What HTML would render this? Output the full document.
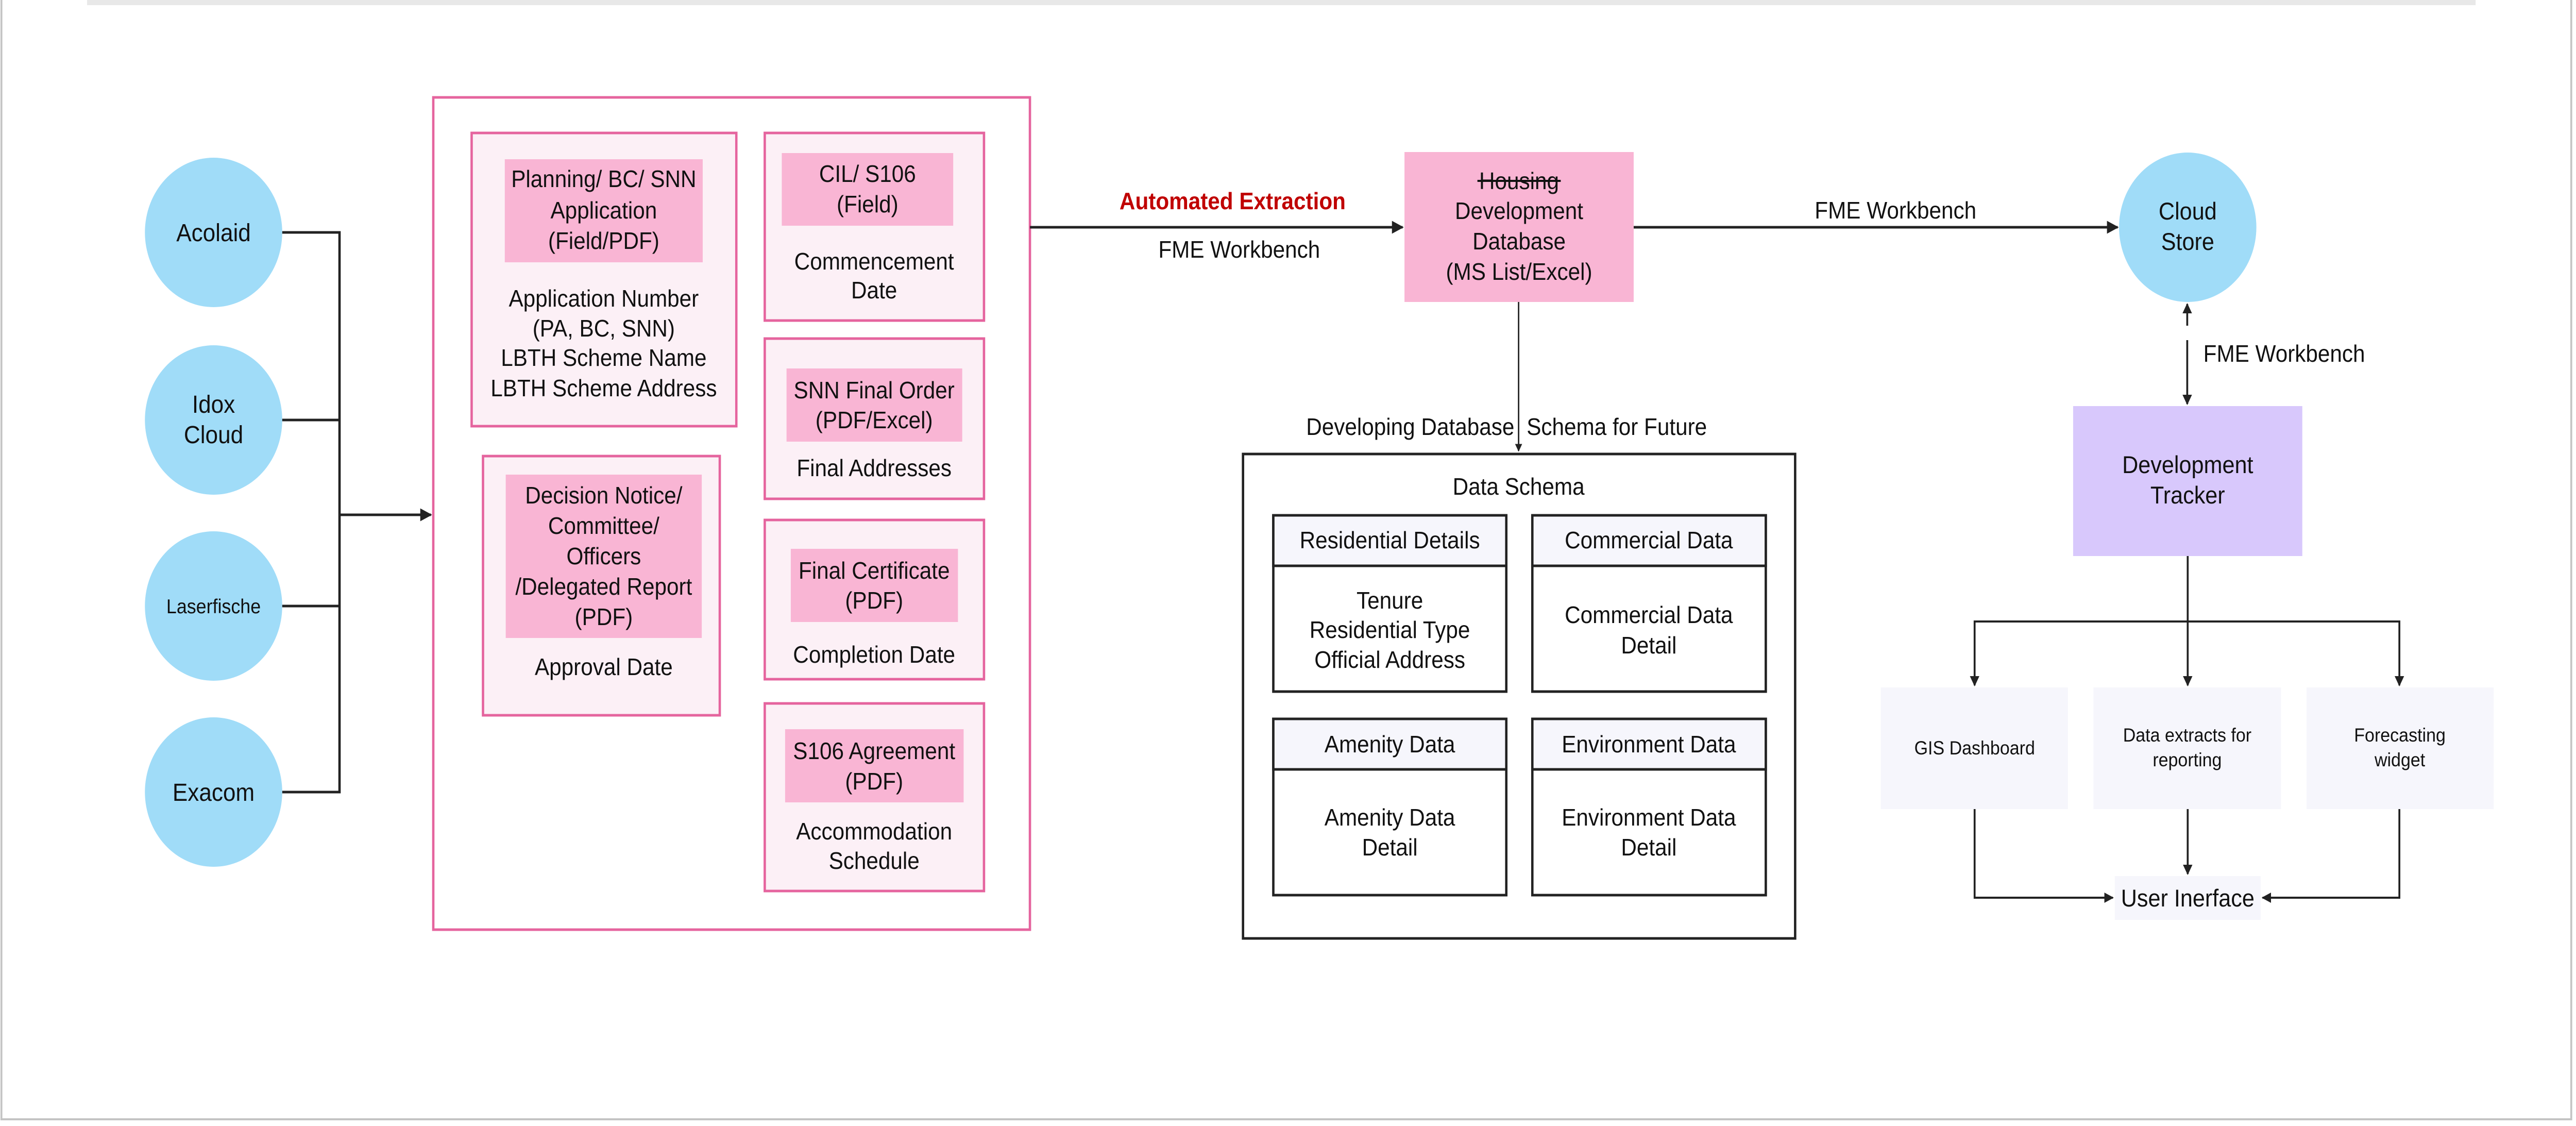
<!DOCTYPE html>
<html><head><meta charset="utf-8"><style>
html,body{margin:0;padding:0;background:#fff;overflow:hidden;}
svg{display:block;position:fixed;left:0;top:0;width:100vw;height:100vh;}
text{font-family:"Liberation Sans",sans-serif;fill:#111;}
</style></head><body>
<svg viewBox="0 0 5440 2185" preserveAspectRatio="none" xmlns="http://www.w3.org/2000/svg">
<defs>
<marker id="ah" viewBox="0 0 10 10" refX="9" refY="5" markerWidth="5" markerHeight="5" markerUnits="strokeWidth" orient="auto-start-reverse"><path d="M0,0 L10,5 L0,10 z" fill="#222"/></marker>
</defs>
<rect x="0" y="0" width="5440" height="2185" fill="#fff"/>
<rect x="184" y="0" width="5044" height="10" fill="#e8e8e8"/>
<path d="M3,0 V2172 H5430 V0" fill="none" stroke="#c4c4c4" stroke-width="4"/>

<g fill="#a0dcf8">
<circle cx="451" cy="451" r="145"/>
<circle cx="451" cy="815" r="145"/>
<circle cx="451" cy="1176" r="145"/>
<circle cx="451" cy="1537" r="145"/>
<circle cx="4620" cy="441" r="145"/>
</g>
<g font-size="48" text-anchor="middle">
<text x="451" y="468">Acolaid</text>
<text x="451" y="801">Idox</text>
<text x="451" y="860">Cloud</text>
<text x="451" y="1190" font-size="39">Laserfische</text>
<text x="451" y="1554">Exacom</text>
</g>
<g stroke="#222" stroke-width="5" fill="none">
<path d="M596,451 H717 V1537 H596"/>
<path d="M596,815 H717"/>
<path d="M596,1176 H717"/>
<path d="M717,999 H910" marker-end="url(#ah)"/>
</g>

<rect x="915" y="189" width="1260" height="1615" fill="#fff" stroke="#e5649e" stroke-width="5"/>
<g fill="#fcf0f6" stroke="#e5649e" stroke-width="5">
<rect x="996" y="258" width="559" height="569"/>
<rect x="1615" y="258" width="463" height="364"/>
<rect x="1020" y="885" width="500" height="503"/>
<rect x="1615" y="657" width="463" height="311"/>
<rect x="1615" y="1009" width="463" height="309"/>
<rect x="1615" y="1365" width="463" height="364"/>
</g>
<g fill="#f9b5d4">
<rect x="1066" y="309" width="418" height="200"/>
<rect x="1651" y="297" width="362" height="141"/>
<rect x="1068" y="921" width="414" height="317"/>
<rect x="1661" y="715" width="371" height="142"/>
<rect x="1670" y="1065" width="353" height="142"/>
<rect x="1658" y="1415" width="377" height="142"/>
</g>
<g font-size="46" text-anchor="middle">
<text x="1275" y="363">Planning/ BC/ SNN</text>
<text x="1275" y="424">Application</text>
<text x="1275" y="483">(Field/PDF)</text>
<text x="1275" y="595">Application Number</text>
<text x="1275" y="653">(PA, BC, SNN)</text>
<text x="1275" y="710">LBTH Scheme Name</text>
<text x="1275" y="769">LBTH Scheme Address</text>

<text x="1832" y="353">CIL/ S106</text>
<text x="1832" y="412">(Field)</text>
<text x="1846" y="523">Commencement</text>
<text x="1846" y="579">Date</text>

<text x="1846" y="773">SNN Final Order</text>
<text x="1846" y="831">(PDF/Excel)</text>
<text x="1846" y="924">Final Addresses</text>

<text x="1846" y="1123">Final Certificate</text>
<text x="1846" y="1181">(PDF)</text>
<text x="1846" y="1286">Completion Date</text>

<text x="1846" y="1473">S106 Agreement</text>
<text x="1846" y="1532">(PDF)</text>
<text x="1846" y="1629">Accommodation</text>
<text x="1846" y="1686">Schedule</text>

<text x="1275" y="977">Decision Notice/</text>
<text x="1275" y="1036">Committee/</text>
<text x="1275" y="1095">Officers</text>
<text x="1275" y="1154">/Delegated Report</text>
<text x="1275" y="1213">(PDF)</text>
<text x="1275" y="1310">Approval Date</text>
</g>

<g stroke="#222" stroke-width="5" fill="none">
<path d="M2175,441 H2962" marker-end="url(#ah)"/>
<path d="M3450,441 H4472" marker-end="url(#ah)"/>
</g>
<text x="2603" y="406" font-size="46" font-weight="bold" text-anchor="middle" style="fill:#c00000">Automated Extraction</text>
<text x="2617" y="500" font-size="46" text-anchor="middle">FME Workbench</text>
<text x="4003" y="424" font-size="46" text-anchor="middle">FME Workbench</text>

<rect x="2966" y="295" width="484" height="291" fill="#f9b5d4"/>
<g font-size="46" text-anchor="middle">
<text x="3208" y="367">Housing</text>
<text x="3208" y="425">Development</text>
<text x="3208" y="484">Database</text>
<text x="3208" y="543">(MS List/Excel)</text>
</g>
<line x1="3120" y1="351" x2="3296" y2="351" stroke="#111" stroke-width="4"/>
<text x="4620" y="426" font-size="47" text-anchor="middle">Cloud</text>
<text x="4620" y="485" font-size="47" text-anchor="middle">Store</text>

<path d="M3207,586 V875" stroke="#222" stroke-width="3" fill="none" marker-end="url(#ah)"/>
<text x="3198" y="844" font-size="46" text-anchor="end">Developing Database</text>
<text x="3224" y="844" font-size="46">Schema for Future</text>

<rect x="2625" y="881" width="1166" height="940" fill="#fff" stroke="#222" stroke-width="5"/>
<text x="3207" y="960" font-size="46" text-anchor="middle">Data Schema</text>
<g stroke="#222" stroke-width="5">
<rect x="2689" y="1000" width="492" height="342" fill="#fff"/>
<rect x="3236" y="1000" width="493" height="342" fill="#fff"/>
<rect x="2689" y="1395" width="492" height="342" fill="#fff"/>
<rect x="3236" y="1395" width="493" height="342" fill="#fff"/>
<rect x="2689" y="1000" width="492" height="98" fill="#f6f6fc"/>
<rect x="3236" y="1000" width="493" height="98" fill="#f6f6fc"/>
<rect x="2689" y="1395" width="492" height="98" fill="#f6f6fc"/>
<rect x="3236" y="1395" width="493" height="98" fill="#f6f6fc"/>
</g>
<g font-size="46" text-anchor="middle">
<text x="2935" y="1064">Residential Details</text>
<text x="3482" y="1064">Commercial Data</text>
<text x="2935" y="1460">Amenity Data</text>
<text x="3482" y="1460">Environment Data</text>
<text x="2935" y="1181">Tenure</text>
<text x="2935" y="1238">Residential Type</text>
<text x="2935" y="1296">Official Address</text>
<text x="3482" y="1209">Commercial Data</text>
<text x="3482" y="1268">Detail</text>
<text x="2935" y="1602">Amenity Data</text>
<text x="2935" y="1660">Detail</text>
<text x="3482" y="1602">Environment Data</text>
<text x="3482" y="1660">Detail</text>
</g>

<g stroke="#222" stroke-width="4" fill="none">
<path d="M4619,632 V590" marker-end="url(#ah)"/>
<path d="M4619,660 V784" marker-end="url(#ah)"/>
</g>
<text x="4653" y="702" font-size="46">FME Workbench</text>

<rect x="4378" y="788" width="484" height="291" fill="#d8c8fc"/>
<text x="4620" y="918" font-size="47" text-anchor="middle">Development</text>
<text x="4620" y="977" font-size="47" text-anchor="middle">Tracker</text>

<g stroke="#222" stroke-width="4" fill="none">
<path d="M4620,1079 V1330" marker-end="url(#ah)"/>
<path d="M4170,1300 V1206 H5067 V1300" />
<path d="M4170,1300 V1330" marker-end="url(#ah)"/>
<path d="M5067,1300 V1330" marker-end="url(#ah)"/>
<path d="M4620,1570 V1696" marker-end="url(#ah)"/>
<path d="M4170,1570 V1742 H4462" marker-end="url(#ah)"/>
<path d="M5067,1570 V1742 H4778" marker-end="url(#ah)"/>
</g>
<g fill="#f6f6fc">
<rect x="3972" y="1334" width="395" height="236"/>
<rect x="4421" y="1334" width="396" height="236"/>
<rect x="4871" y="1334" width="395" height="236"/>
<rect x="4466" y="1700" width="308" height="85"/>
</g>
<g font-size="37" text-anchor="middle">
<text x="4170" y="1464">GIS Dashboard</text>
<text x="4619" y="1439">Data extracts for</text>
<text x="4619" y="1487">reporting</text>
<text x="5068" y="1439">Forecasting</text>
<text x="5068" y="1487">widget</text>
</g>
<text x="4620" y="1759" font-size="47" text-anchor="middle">User Inerface</text>
</svg>
</body></html>
